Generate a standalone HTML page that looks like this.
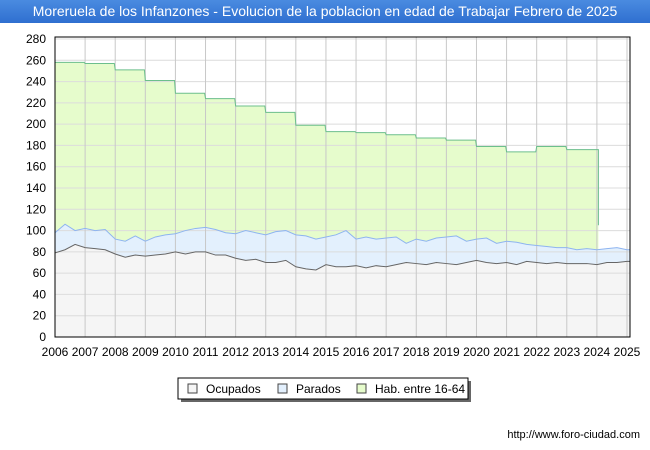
<!DOCTYPE html>
<html><head><meta charset="utf-8"><style>
body{margin:0;background:#fff;font-family:"Liberation Sans","DejaVu Sans",sans-serif}
#t{position:absolute;left:0;top:0;width:650px;height:23px;background:linear-gradient(#4a8be0,#2f6fd0);color:#fff;font-size:14px;line-height:23px;text-align:center}
</style></head><body>
<div id="t">Moreruela de los Infanzones - Evolucion de la poblacion en edad de Trabajar Febrero de 2025</div>
<svg id="c" width="650" height="450" style="position:absolute;left:0;top:0;pointer-events:none" xmlns="http://www.w3.org/2000/svg"></svg>
<script>
const years=[2006,2007,2008,2009,2010,2011,2012,2013,2014,2015,2016,2017,2018,2019,2020,2021,2022,2023,2024,2025];
const yTicks=[0,20,40,60,80,100,120,140,160,180,200,220,240,260,280];
const habYears=[2006,2007,2008,2009,2010,2011,2012,2013,2014,2015,2016,2017,2018,2019,2020,2021,2022,2023];
const hab=[258,257,251,241,229,224,217,211,199,193,192,190,187,185,179,174,179,176];
const habLast=105;
const ocupados=[79,82,87,84,83,82,78,75,77,76,77,78,80,78,80,80,77,77,74,72,73,70,70,72,66,64,63,68,66,66,67,65,67,66,68,70,69,68,70,69,68,70,72,70,69,70,68,71,70,69,70,69,69,69,68,70,70,71];
const parados=[19,24,13,18,17,19,14,15,18,14,17,18,17,22,22,23,24,21,23,28,25,26,29,28,30,31,29,26,30,34,25,29,25,27,26,18,23,22,23,25,27,20,20,23,19,20,21,16,16,16,14,15,13,14,14,13,14,11];
const svg=document.getElementById('c');const NS='http://www.w3.org/2000/svg';
const L=55,R=630,T=37,B=337;
const X=t=>L+(t-2006)*(627-55)/19;
const Y=v=>B-v*(B-39)/280;
function el(tag,a,name,txt){const e=document.createElementNS(NS,tag);for(const k in a)e.setAttribute(k,a[k]);


if(txt!==undefined)e.textContent=txt;svg.appendChild(e);return e;}
el('rect',{x:L,y:T,width:R-L,height:B-T,fill:'#fff'},'plot-area');
const tOf=i=>2006+i/3;
let hp=[];habYears.forEach((y,i)=>{hp.push([X(y),Y(hab[i])]);hp.push([X(y+0.97),Y(hab[i])]);});
hp.push([X(2024.05),Y(hab[hab.length-1])]);hp.push([X(2024.05),Y(habLast)]);
const hs=hp.map(p=>p.join(',')).join(' ');
el('polygon',{points:`${X(2006)},${B} ${hs} ${X(2024.05)},${B}`,fill:'#e6fccc'},'hab-area');
let topPts=ocupados.map((o,i)=>[X(tOf(i)),Y(o+parados[i])]);topPts.push([X(2025.1),Y(ocupados[ocupados.length-1]+parados[parados.length-1])]);
let botPts=ocupados.map((o,i)=>[X(tOf(i)),Y(o)]);botPts.push([X(2025.1),Y(ocupados[ocupados.length-1])]);
el('polygon',{points:topPts.map(p=>p.join(',')).join(' ')+' '+botPts.slice().reverse().map(p=>p.join(',')).join(' '),fill:'#e3f0fd'},'parados-area');
el('polygon',{points:`${L},${B} `+botPts.map(p=>p.join(',')).join(' ')+` ${R},${B}`,fill:'#f5f5f5'},'ocupados-area');
yTicks.forEach(v=>{el('line',{x1:L,x2:R,y1:Y(v),y2:Y(v),stroke:'#dcdcdc'},'h-grid');
el('text',{x:L-9,y:Y(v)+4,'text-anchor':'end','font-size':12,fill:'#000'},'y-tick-label',v);});
years.forEach(y=>{el('line',{x1:X(y),x2:X(y),y1:T,y2:B,stroke:'#c8c8c8'},'v-grid');
el('text',{x:X(y),y:356,'text-anchor':'middle','font-size':12,fill:'#000'},'x-tick-label',y);});
el('polyline',{points:hs,fill:'none',stroke:'#6cbf8c','stroke-width':1},'hab-line');
el('polyline',{points:topPts.map(p=>p.join(',')).join(' '),fill:'none',stroke:'#8eb4f0','stroke-width':1},'parados-line');
el('polyline',{points:botPts.map(p=>p.join(',')).join(' '),fill:'none',stroke:'#666','stroke-width':1},'ocupados-line');
el('rect',{x:L,y:T,width:R-L,height:B-T,fill:'none',stroke:'#000'},'plot-border');
el('rect',{x:181,y:381,width:290,height:21,fill:'#666'},'legend-shadow');
el('rect',{x:178,y:378,width:290,height:21,fill:'#fff',stroke:'#000'},'legend');
[['Ocupados','#f5f5f5','#666',188],['Parados','#e3f0fd','#8eb4f0',278],['Hab. entre 16-64','#e6fccc','#6cbf8c',357]].forEach(l=>{
el('rect',{x:l[3],y:384,width:9,height:9,fill:l[1],stroke:'#444'},'legend-swatch');
el('text',{x:l[3]+18,y:393,'font-size':12,fill:'#000'},'legend-entry',l[0]);});
el('text',{x:640,y:438,'text-anchor':'end','font-size':11,fill:'#000'},'source-url','http://www.foro-ciudad.com');
</script></body></html>
